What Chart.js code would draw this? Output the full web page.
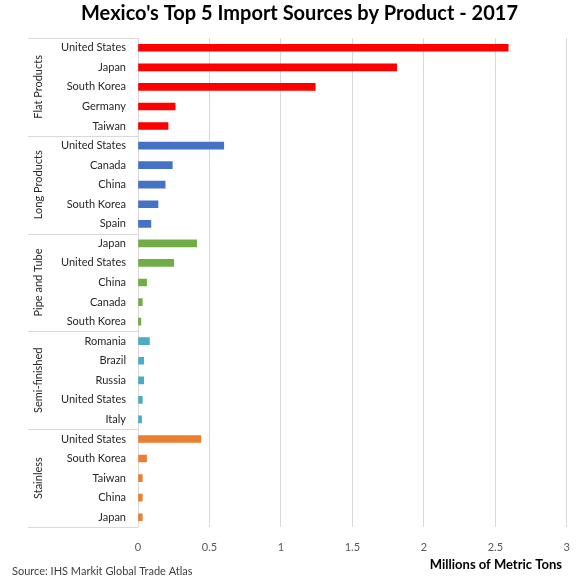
<!DOCTYPE html>
<html>
<head>
<meta charset="utf-8">
<script src="https://cdn.jsdelivr.net/npm/chart.js@4"></script>
<style>
  body { margin: 0; background: #fff; }
</style>
</head>
<body>
<canvas id="graphique-import" width="584" height="584"></canvas>
<script>
// groupes de produits (affichés à gauche, texte vertical)
const produits = ["Flat Products", "Long Products", "Pipe and Tube", "Semi-finished", "Stainless"];

// pays par produit (top 5)
const paysFlat = ["United States", "Japan", "South Korea", "Germany", "Taiwan"];
const paysLong = ["United States", "Canada", "China", "South Korea", "Spain"];
const paysPipe = ["Japan", "United States", "China", "Canada", "South Korea"];
const paysSemi = ["Romania", "Brazil", "Russia", "United States", "Italy"];
const paysStainless = ["United States", "South Korea", "Taiwan", "China", "Japan"];

// valeurs en millions de tonnes métriques
const valeursFlat = [2.59, 1.81, 1.24, 0.26, 0.21];
const valeursLong = [0.60, 0.24, 0.19, 0.14, 0.09];
const valeursPipe = [0.41, 0.25, 0.06, 0.03, 0.02];
const valeursSemi = [0.08, 0.04, 0.04, 0.03, 0.025];
const valeursStainless = [0.44, 0.06, 0.03, 0.03, 0.03];

// graduations de l'axe horizontal
const graduations = [0, 0.5, 1, 1.5, 2, 2.5, 3];

const couleurs = ["#ff0000", "#4472c4", "#70ad47", "#4bacc6", "#ed7d31"];

const groupesPays = [paysFlat, paysLong, paysPipe, paysSemi, paysStainless];
const groupesValeurs = [valeursFlat, valeursLong, valeursPipe, valeursSemi, valeursStainless];

// on met tout à plat pour chart.js
const labels = [];
const valeurs = [];
const couleursBarres = [];
for (let i = 0; i < groupesPays.length; i++) {
  for (let j = 0; j < groupesPays[i].length; j++) {
    labels.push(groupesPays[i][j]);
    valeurs.push(groupesValeurs[i][j]);
    couleursBarres.push(couleurs[i]);
  }
}

const police = "Lato, 'Open Sans', sans-serif";

// plugin pour les noms de groupes, les séparateurs, le titre de l'axe et la source
const groupesPlugin = {
  id: "groupes",
  afterDraw(chart) {
    const ctx = chart.ctx;
    const y = chart.scales.y;
    const gauche = 28;
    const droite = chart.chartArea.left;
    ctx.save();
    ctx.strokeStyle = "#d9d9d9";
    ctx.lineWidth = 1;
    let debut = 0;
    for (let i = 0; i <= groupesPays.length; i++) {
      const ligne = Math.round(y.getPixelForValue(debut - 0.5)) + 0.5;
      ctx.beginPath();
      ctx.moveTo(gauche, ligne);
      ctx.lineTo(droite, ligne);
      ctx.stroke();
      if (i < groupesPays.length) {
        const fin = debut + groupesPays[i].length - 1;
        const milieu = (y.getPixelForValue(debut) + y.getPixelForValue(fin)) / 2;
        ctx.save();
        ctx.translate(gauche + 10, milieu);
        ctx.rotate(-Math.PI / 2);
        ctx.fillStyle = "#262626";
        ctx.font = "11px " + police;
        ctx.textAlign = "center";
        ctx.textBaseline = "middle";
        ctx.fillText(produits[i], 0, 0);
        ctx.restore();
        debut = fin + 1;
      }
    }
    // titre de l'axe x, un peu décalé du bord droit comme sur l'original
    ctx.fillStyle = "#000";
    ctx.font = "bold 13px " + police;
    ctx.textAlign = "right";
    ctx.textBaseline = "middle";
    ctx.fillText("Millions of Metric Tons", 562, 565);
    // source en bas à gauche
    ctx.fillStyle = "#404040";
    ctx.font = "11px " + police;
    ctx.textAlign = "left";
    ctx.fillText("Source: IHS Markit Global Trade Atlas", 12, 571);
    ctx.restore();
  }
};

const config = {
  type: "bar",
  data: {
    labels: labels,
    datasets: [{
      data: valeurs,
      backgroundColor: couleursBarres,
      barThickness: 7
    }]
  },
  options: {
    indexAxis: "y",
    responsive: false,
    animation: false,
    layout: { padding: { left: 28, right: 13, top: 0, bottom: 12 } },
    plugins: {
      legend: { display: false },
      tooltip: { enabled: false },
      title: {
        display: true,
        text: "Mexico's Top 5 Import Sources by Product - 2017",
        color: "#000",
        font: { family: police, size: 20, weight: "bold" },
        padding: { top: 2, bottom: 12 }
      }
    },
    scales: {
      x: {
        min: 0,
        max: 3,
        afterBuildTicks: (scale) => { scale.ticks = graduations.map((v) => ({ value: v })); },
        afterFit: (scale) => { scale.height = 45; },
        ticks: {
          color: "#595959",
          font: { family: police, size: 11 },
          padding: 14,
          maxRotation: 0,
          callback: (v) => String(v)
        },
        grid: { color: "#d9d9d9", drawTicks: false },
        border: { display: false }
      },
      y: {
        afterFit: (scale) => { scale.width = 110; },
        ticks: {
          color: "#262626",
          font: { family: police, size: 11 },
          padding: 12,
          autoSkip: false
        },
        grid: { display: false, drawTicks: false },
        border: { display: false }
      }
    }
  },
  plugins: [groupesPlugin]
};

new Chart(document.querySelector("#graphique-import"), config);
</script>
</body>
</html>
